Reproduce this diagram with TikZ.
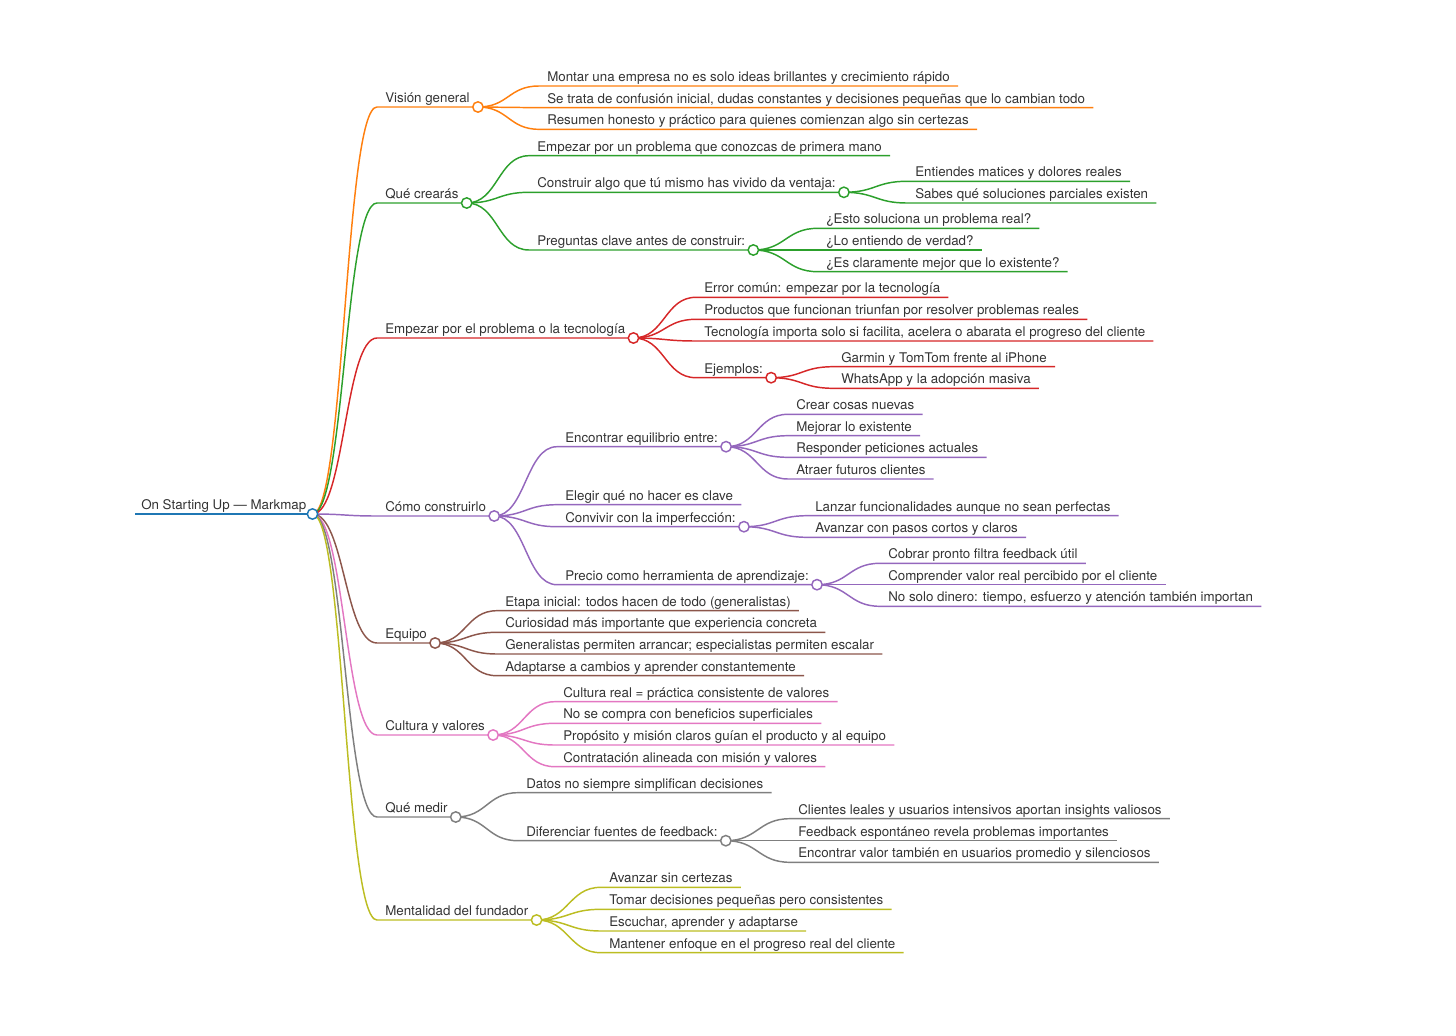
\documentclass[tikz,border=0pt]{standalone}
\usepackage{fontspec}
\setmainfont{TeX Gyre Heros}
\usepackage{tikz}
\usetikzlibrary{calc}

\definecolor{mmtext}{HTML}{333333}
\definecolor{mmblue}{HTML}{1F77B4}
\definecolor{mmorange}{HTML}{FF7F0E}
\definecolor{mmgreen}{HTML}{2CA02C}
\definecolor{mmred}{HTML}{D62728}
\definecolor{mmpurple}{HTML}{9467BD}
\definecolor{mmbrown}{HTML}{8C564B}
\definecolor{mmpink}{HTML}{E377C2}
\definecolor{mmgray}{HTML}{7F7F7F}
\definecolor{mmolive}{HTML}{BCBD22}

\tikzset{
  topic/.style={anchor=south west, inner xsep=6pt, inner ysep=3.2pt,
    text height=7.2pt, text depth=0pt, text=mmtext, font=\fontsize{10pt}{12pt}\selectfont},
  edge/.style={line width=1.1pt},
  knot/.style={circle, draw, fill=white, line width=1.1pt, minimum size=7.8pt, inner sep=0pt}
}

% curve from parent circle to child line, then child underline
\newcommand{\mmedge}[3]{%
  \draw[edge,#1] let \p1=(#2.south east), \p2=(#3.south west) in
    (\p1) .. controls ({(\x1+\x2)/2},\y1) and ({(\x1+\x2)/2},\y2) .. (\p2) -- (#3.south east);}
\newcommand{\mmknot}[2]{\node[knot,draw=#1] (#2-k) at (#2.south east) {};}

\begin{document}
\begin{tikzpicture}[x=0.75pt,y=-0.75pt]
\useasboundingbox (0,0) rectangle (1456,1035);

% root
\node[topic, inner xsep=4.5pt] (root) at (135,514) {On Starting Up — Markmap};

% first level
\node[topic] (vis) at (377,107) {Visión general};
\node[topic] (cre) at (377,203) {Qué crearás};
\node[topic] (emp) at (377,338) {Empezar por el problema o la tecnología};
\node[topic] (con) at (377,516) {Cómo construirlo};
\node[topic] (equ) at (377,643) {Equipo};
\node[topic] (cul) at (377,735) {Cultura y valores};
\node[topic] (med) at (377,817) {Qué medir};
\node[topic] (men) at (377,920) {Mentalidad del fundador};

% Visión general
\node[topic] (vis-a) at (539,86) {Montar una empresa no es solo ideas brillantes y crecimiento rápido};
\node[topic] (vis-b) at (539,107.7) {Se trata de confusión inicial, dudas constantes y decisiones pequeñas que lo cambian todo};
\node[topic] (vis-c) at (539,129.3) {Resumen honesto y práctico para quienes comienzan algo sin certezas};

% Qué crearás
\node[topic] (cre-a) at (529,155.7) {Empezar por un problema que conozcas de primera mano};
\node[topic] (cre-b) at (529,192.3) {Construir algo que tú mismo has vivido da ventaja:};
\node[topic] (cre-c) at (529,250) {Preguntas clave antes de construir:};
\node[topic] (cre-b-a) at (907,181.3) {Entiendes matices y dolores reales};
\node[topic] (cre-b-b) at (907,203) {Sabes qué soluciones parciales existen};
\node[topic] (cre-c-a) at (818,228.3) {¿Esto soluciona un problema real?};
\node[topic] (cre-c-b) at (818,250) {¿Lo entiendo de verdad?};
\node[topic] (cre-c-c) at (818,271.7) {¿Es claramente mejor que lo existente?};

% Empezar por el problema
\node[topic] (emp-a) at (696,297.3) {Error común: empezar por la tecnología};
\node[topic] (emp-b) at (696,319.3) {Productos que funcionan triunfan por resolver problemas reales};
\node[topic] (emp-c) at (696,341) {Tecnología importa solo si facilita, acelera o abarata el progreso del cliente};
\node[topic] (emp-d) at (696,377.7) {Ejemplos:};
\node[topic] (emp-d-a) at (833,366.7) {Garmin y TomTom frente al iPhone};
\node[topic] (emp-d-b) at (833,388.3) {WhatsApp y la adopción masiva};

% Cómo construirlo
\node[topic] (con-a) at (557,446.7) {Encontrar equilibrio entre:};
\node[topic] (con-b) at (557,504.7) {Elegir qué no hacer es clave};
\node[topic] (con-c) at (557,526.7) {Convivir con la imperfección:};
\node[topic] (con-d) at (557,584.7) {Precio como herramienta de aprendizaje:};
\node[topic] (con-a-a) at (788,414.3) {Crear cosas nuevas};
\node[topic] (con-a-b) at (788,435.7) {Mejorar lo existente};
\node[topic] (con-a-c) at (788,457.3) {Responder peticiones actuales};
\node[topic] (con-a-d) at (788,479) {Atraer futuros clientes};
\node[topic] (con-c-a) at (807,515.7) {Lanzar funcionalidades aunque no sean perfectas};
\node[topic] (con-c-b) at (807,537.3) {Avanzar con pasos cortos y claros};
\node[topic] (con-d-a) at (880,563.3) {Cobrar pronto filtra feedback útil};
\node[topic] (con-d-b) at (880,584.7) {Comprender valor real percibido por el cliente};
\node[topic] (con-d-c) at (880,606.3) {No solo dinero: tiempo, esfuerzo y atención también importan};

% Equipo
\node[topic] (equ-a) at (497,610.7) {Etapa inicial: todos hacen de todo (generalistas)};
\node[topic] (equ-b) at (497,632.3) {Curiosidad más importante que experiencia concreta};
\node[topic] (equ-c) at (497,654) {Generalistas permiten arrancar; especialistas permiten escalar};
\node[topic] (equ-d) at (497,675.7) {Adaptarse a cambios y aprender constantemente};

% Cultura y valores
\node[topic] (cul-a) at (555,701.7) {Cultura real = práctica consistente de valores};
\node[topic] (cul-b) at (555,723.3) {No se compra con beneficios superficiales};
\node[topic] (cul-c) at (555,745) {Propósito y misión claros guían el producto y al equipo};
\node[topic] (cul-d) at (555,766.7) {Contratación alineada con misión y valores};

% Qué medir
\node[topic] (med-a) at (518,792.7) {Datos no siempre simplifican decisiones};
\node[topic] (med-b) at (518,840.7) {Diferenciar fuentes de feedback:};
\node[topic] (med-b-a) at (790,818.7) {Clientes leales y usuarios intensivos aportan insights valiosos};
\node[topic] (med-b-b) at (790,840.7) {Feedback espontáneo revela problemas importantes};
\node[topic] (med-b-c) at (790,862.3) {Encontrar valor también en usuarios promedio y silenciosos};

% Mentalidad del fundador
\node[topic] (men-a) at (601,887.3) {Avanzar sin certezas};
\node[topic] (men-b) at (601,909.3) {Tomar decisiones pequeñas pero consistentes};
\node[topic] (men-c) at (601,931) {Escuchar, aprender y adaptarse};
\node[topic] (men-d) at (601,952.7) {Mantener enfoque en el progreso real del cliente};

% connectors
\draw[edge,mmblue] (root.south west) -- (root.south east);
\mmedge{mmorange}{root}{vis}
\mmedge{mmgreen}{root}{cre}
\mmedge{mmred}{root}{emp}
\mmedge{mmpurple}{root}{con}
\mmedge{mmbrown}{root}{equ}
\mmedge{mmpink}{root}{cul}
\mmedge{mmgray}{root}{med}
\mmedge{mmolive}{root}{men}

\mmedge{mmorange}{vis}{vis-a}
\mmedge{mmorange}{vis}{vis-b}
\mmedge{mmorange}{vis}{vis-c}

\mmedge{mmgreen}{cre}{cre-a}
\mmedge{mmgreen}{cre}{cre-b}
\mmedge{mmgreen}{cre}{cre-c}
\mmedge{mmgreen}{cre-b}{cre-b-a}
\mmedge{mmgreen}{cre-b}{cre-b-b}
\mmedge{mmgreen}{cre-c}{cre-c-a}
\mmedge{mmgreen}{cre-c}{cre-c-b}
\mmedge{mmgreen}{cre-c}{cre-c-c}

\mmedge{mmred}{emp}{emp-a}
\mmedge{mmred}{emp}{emp-b}
\mmedge{mmred}{emp}{emp-c}
\mmedge{mmred}{emp}{emp-d}
\mmedge{mmred}{emp-d}{emp-d-a}
\mmedge{mmred}{emp-d}{emp-d-b}

\mmedge{mmpurple}{con}{con-a}
\mmedge{mmpurple}{con}{con-b}
\mmedge{mmpurple}{con}{con-c}
\mmedge{mmpurple}{con}{con-d}
\mmedge{mmpurple}{con-a}{con-a-a}
\mmedge{mmpurple}{con-a}{con-a-b}
\mmedge{mmpurple}{con-a}{con-a-c}
\mmedge{mmpurple}{con-a}{con-a-d}
\mmedge{mmpurple}{con-c}{con-c-a}
\mmedge{mmpurple}{con-c}{con-c-b}
\mmedge{mmpurple}{con-d}{con-d-a}
\mmedge{mmpurple}{con-d}{con-d-b}
\mmedge{mmpurple}{con-d}{con-d-c}

\mmedge{mmbrown}{equ}{equ-a}
\mmedge{mmbrown}{equ}{equ-b}
\mmedge{mmbrown}{equ}{equ-c}
\mmedge{mmbrown}{equ}{equ-d}

\mmedge{mmpink}{cul}{cul-a}
\mmedge{mmpink}{cul}{cul-b}
\mmedge{mmpink}{cul}{cul-c}
\mmedge{mmpink}{cul}{cul-d}

\mmedge{mmgray}{med}{med-a}
\mmedge{mmgray}{med}{med-b}
\mmedge{mmgray}{med-b}{med-b-a}
\mmedge{mmgray}{med-b}{med-b-b}
\mmedge{mmgray}{med-b}{med-b-c}

\mmedge{mmolive}{men}{men-a}
\mmedge{mmolive}{men}{men-b}
\mmedge{mmolive}{men}{men-c}
\mmedge{mmolive}{men}{men-d}

% circles on the branching nodes
\mmknot{mmblue}{root}
\mmknot{mmorange}{vis}
\mmknot{mmgreen}{cre}
\mmknot{mmgreen}{cre-b}
\mmknot{mmgreen}{cre-c}
\mmknot{mmred}{emp}
\mmknot{mmred}{emp-d}
\mmknot{mmpurple}{con}
\mmknot{mmpurple}{con-a}
\mmknot{mmpurple}{con-c}
\mmknot{mmpurple}{con-d}
\mmknot{mmbrown}{equ}
\mmknot{mmpink}{cul}
\mmknot{mmgray}{med}
\mmknot{mmgray}{med-b}
\mmknot{mmolive}{men}
\end{tikzpicture}
\end{document}
